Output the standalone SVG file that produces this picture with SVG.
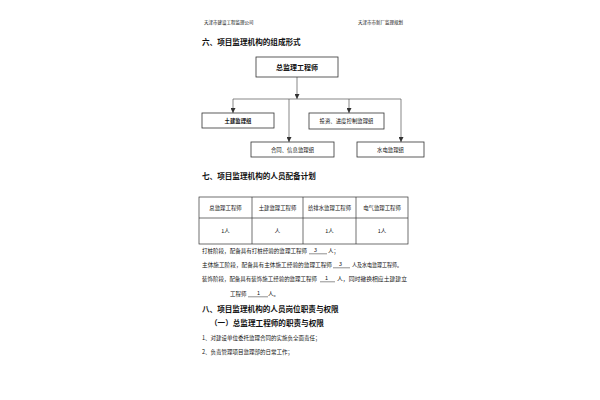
<svg xmlns="http://www.w3.org/2000/svg" width="600" height="400" viewBox="0 0 600 400">
<defs>
<style>
text{font-family:"Noto Sans CJK SC","Liberation Sans",sans-serif;fill:#111}
.hdr{font-size:4.5px}
.h{font-size:7.6px;font-weight:bold}
.b{font-size:5.5px}
.bt{font-size:5.4px;text-anchor:middle}
.box{fill:#fff;stroke:#333;stroke-width:0.8}
.con{fill:none;stroke:#555;stroke-width:0.7}
.tb{fill:none;stroke:#333;stroke-width:0.7}
.ul{stroke:#222;stroke-width:0.5}
</style>
<marker id="ah" viewBox="0 0 6 6" refX="6" refY="3" markerWidth="5" markerHeight="5" orient="auto" markerUnits="userSpaceOnUse">
<path d="M0,0 L6,3 L0,6 z" fill="#333"/>
</marker>
</defs>
<rect width="600" height="400" fill="#fff"/>

<text class="hdr" x="204" y="24">天津市建设工程监理公司</text>
<text class="hdr" x="358" y="24">天津市市新厂监理规划</text>

<text class="h" x="202" y="45">六、项目监理机构的组成形式</text>

<g id="connectors">
<line class="con" x1="297" y1="77" x2="297" y2="99" marker-end="url(#ah)"/>
<line class="con" x1="233" y1="99" x2="401" y2="99"/>
<line class="con" x1="233" y1="99" x2="233" y2="113" marker-end="url(#ah)"/>
<line class="con" x1="289" y1="99" x2="289" y2="142" marker-end="url(#ah)"/>
<line class="con" x1="349" y1="99" x2="349" y2="113" marker-end="url(#ah)"/>
<line class="con" x1="401" y1="99" x2="401" y2="142" marker-end="url(#ah)"/>
</g>

<g id="chief">
<rect class="box" x="256" y="57" width="82" height="20"/>
<text x="297" y="70" style="font-size:7px;font-weight:bold;text-anchor:middle">总监理工程师</text>
</g>
<g id="civil">
<rect class="box" x="202" y="113" width="72" height="15"/>
<text class="bt" x="238" y="123" style="font-weight:bold">土建监理组</text>
</g>
<g id="invest">
<rect class="box" x="309" y="113" width="75" height="16"/>
<text class="bt" x="346.5" y="123">投资、进度控制监理组</text>
</g>
<g id="contract">
<rect class="box" x="251" y="142" width="83" height="15"/>
<text class="bt" x="292.5" y="152">合同、信息监理组</text>
</g>
<g id="water">
<rect class="box" x="357" y="142" width="67" height="15"/>
<text class="bt" x="390.5" y="152">水电监理组</text>
</g>

<text class="h" x="202" y="179">七、项目监理机构的人员配备计划</text>

<g id="table">
<rect class="tb" x="199" y="197" width="209" height="47"/>
<line class="tb" x1="199" y1="218" x2="408" y2="218"/>
<line class="tb" x1="252" y1="197" x2="252" y2="244"/>
<line class="tb" x1="303" y1="197" x2="303" y2="244"/>
<line class="tb" x1="356" y1="197" x2="356" y2="244"/>
<text class="bt" x="225.5" y="210">总监理工程师</text>
<text class="bt" x="277.5" y="210">土建监理工程师</text>
<text class="bt" x="329.5" y="210">给排水监理工程师</text>
<text class="bt" x="382" y="210">电气监理工程师</text>
<text class="bt" x="225.5" y="233">1人</text>
<text class="bt" x="277.5" y="233">人</text>
<text class="bt" x="329.5" y="233">1人</text>
<text class="bt" x="382" y="233">1人</text>
</g>

<text class="b" x="202" y="253" textLength="105" lengthAdjust="spacingAndGlyphs">打桩阶段，配备具有打桩经验的监理工程师</text>
<text class="b" x="314" y="252">3</text>
<line class="ul" x1="309" y1="253.8" x2="327" y2="253.8"/>
<text class="b" x="328" y="253">人；</text>

<text class="b" x="202" y="267" textLength="130" lengthAdjust="spacingAndGlyphs">主体施工阶段，配备具有主体施工经验的监理工程师</text>
<text class="b" x="339" y="266">3</text>
<line class="ul" x1="333" y1="267.8" x2="350" y2="267.8"/>
<text class="b" x="352" y="267" textLength="50" lengthAdjust="spacingAndGlyphs">人及水电监理工程师。</text>

<text class="b" x="202" y="281" textLength="115" lengthAdjust="spacingAndGlyphs">装饰阶段，配备具有装饰施工经验的监理工程师</text>
<text class="b" x="325" y="280">1</text>
<line class="ul" x1="320" y1="281.8" x2="335" y2="281.8"/>
<text class="b" x="337" y="281" textLength="70" lengthAdjust="spacingAndGlyphs">人，同时撤换相应土建建立</text>

<text class="b" x="230" y="296">工程师</text>
<text class="b" x="257" y="295">1</text>
<line class="ul" x1="248" y1="296.8" x2="268" y2="296.8"/>
<text class="b" x="268" y="296">人。</text>

<text class="h" x="202" y="312">八、项目监理机构的人员岗位职责与权限</text>
<text class="h" x="210" y="326">（一）总监理工程师的职责与权限</text>

<text class="b" x="202" y="340">1、对建设单位委托监理合同的实施负全面责任；</text>
<text class="b" x="202" y="354">2、负责管理项目监理部的日常工作；</text>
</svg>
